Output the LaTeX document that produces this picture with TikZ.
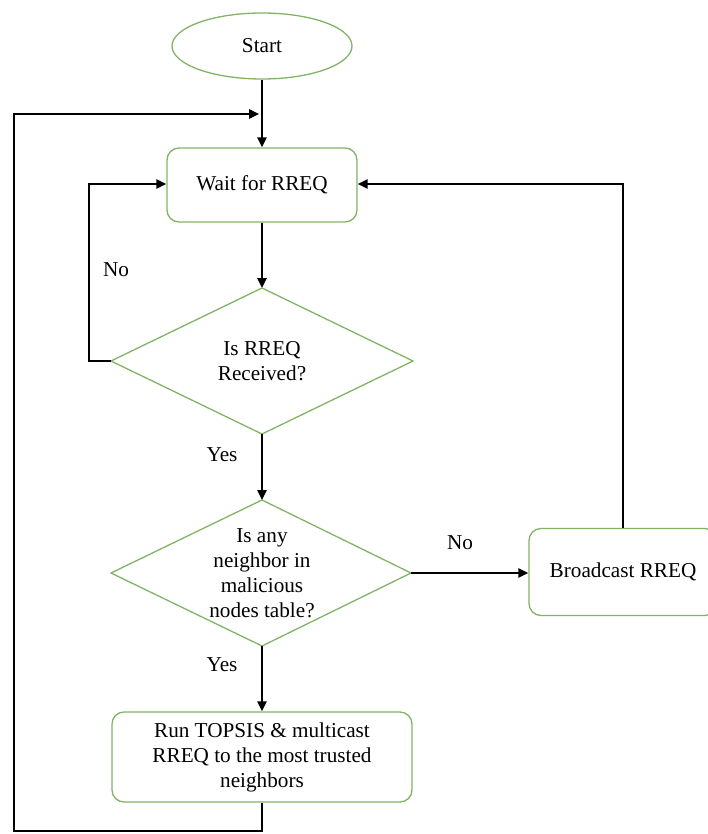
\documentclass[tikz,border=0pt]{standalone}
\usepackage{fontspec}
\setmainfont{Liberation Serif}
\usetikzlibrary{shapes.geometric,arrows.meta}
\definecolor{gline}{HTML}{82B366}
\tikzset{
  base/.style={draw=gline, line width=1.3pt, fill=white, align=center, font=\fontsize{21.2}{25}\selectfont, inner sep=0pt},
  proc/.style={base, rectangle, rounded corners=12pt},
  term/.style={base, ellipse},
  conn/.style={draw=black, line width=2.4pt, -{Triangle[length=10pt,width=9pt]}},
  lbl/.style={font=\fontsize{21.2}{25}\selectfont, inner sep=0pt}
}
\begin{document}
\begin{tikzpicture}[x=1pt,y=-1pt]
\clip (0,0) rectangle (708,834);
\useasboundingbox (0,0) rectangle (708,834);
\node[term, minimum width=180pt, minimum height=66pt] (start) at (262,46) {Start};
\node[proc, minimum width=190pt, minimum height=74pt] (wait) at (262,185) {Wait for RREQ};
\path[base] (262,288) -- (413,361) -- (262,434) -- (111,361) -- cycle;
\node[lbl, align=center] (d1) at (262,361) {Is RREQ\\Received?};
\coordinate (d1t) at (262,288);
\coordinate (d1b) at (262,434);
\coordinate (d1l) at (111,361);
\path[base] (262,500) -- (411,573) -- (262,646) -- (111,573) -- cycle;
\node[lbl, align=center] (d2) at (262,573) {Is any\\neighbor in\\malicious\\nodes table?};
\coordinate (d2t) at (262,500);
\coordinate (d2b) at (262,646);
\coordinate (d2r) at (411,573);
\node[proc, minimum width=188pt, minimum height=87pt] (bc) at (623,572) {Broadcast RREQ};
\node[proc, minimum width=300pt, minimum height=90pt] (run) at (262,757) {Run TOPSIS \& multicast\\RREQ to the most trusted\\neighbors};

\draw[conn] (start.south) -- (wait.north);
\draw[conn] (wait.south) -- (d1t);
\draw[conn] (d1b) -- (d2t);
\draw[conn] (d2b) -- (run.north);
\draw[conn] (d1l) -- (89,361) -- (89,184) -- (wait.west |- 0,184);
\draw[conn] (d2r) -- (bc.west |- 0,573);
\draw[conn] (bc.north) -- (623,184) -- (wait.east |- 0,184);
\coordinate (loopend) at (259,114);
\draw[conn] (run.south) -- (262,831) -- (14,831) -- (14,114) -- (loopend);

\node[lbl] (no1) at (116,270) {No};
\node[lbl] (no2) at (460,543) {No};
\node[lbl] (yes1) at (222,455) {Yes};
\node[lbl] (yes2) at (222,665) {Yes};
\end{tikzpicture}
\end{document}
